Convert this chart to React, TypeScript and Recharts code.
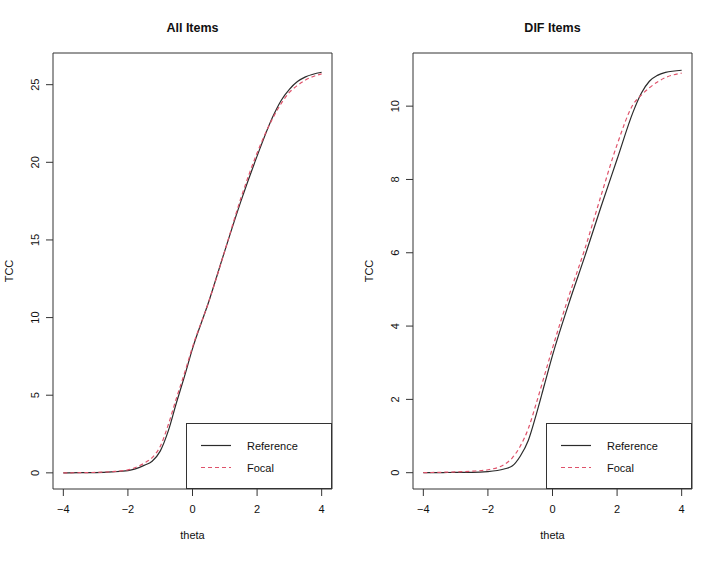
import React from "react";
import {
  LineChart,
  Line,
  XAxis,
  YAxis,
  ReferenceArea,
  Legend,
} from "recharts";

// theta grid and test characteristic curves
const theta = [-4, -3.5, -3, -2.5, -2, -1.5, -1.25, -1, -0.75, -0.5, -0.25, 0, 0.5, 1, 1.5, 2, 2.5, 2.75, 3, 3.25, 3.5, 4];

const allReference = [0, 0.01, 0.02, 0.06, 0.14, 0.48, 0.75, 1.4, 2.7, 4.5, 6.2, 8.0, 11.0, 14.3, 17.5, 20.4, 23.0, 24.0, 24.7, 25.2, 25.5, 25.8];
const allFocal = [0, 0.01, 0.03, 0.08, 0.19, 0.62, 0.98, 1.7, 3.1, 4.8, 6.4, 8.1, 11.0, 14.3, 17.7, 20.6, 22.9, 23.8, 24.5, 24.95, 25.3, 25.7];

const difReference = [0, 0, 0.01, 0.01, 0.03, 0.1, 0.18, 0.45, 0.88, 1.6, 2.4, 3.2, 4.6, 5.9, 7.25, 8.55, 9.85, 10.35, 10.68, 10.84, 10.92, 10.98];
const difFocal = [0, 0.01, 0.02, 0.04, 0.08, 0.22, 0.4, 0.72, 1.2, 1.9, 2.65, 3.4, 4.8, 6.1, 7.55, 8.95, 10.05, 10.3, 10.5, 10.66, 10.78, 10.9];

const xTicks = [-4, -2, 0, 2, 4];
const allTicks = [0, 5, 10, 15, 20, 25];
const difTicks = [0, 2, 4, 6, 8, 10];

const seriesNames = ["Reference", "Focal"];
const seriesColors = ["#2b2b2b", "#df536b"];
const seriesDash = [undefined, "4 3"];

const FONT = "'Liberation Sans', Arial, Helvetica, sans-serif";
const INK = "#333";

const fmt = (v: number) => (v < 0 ? "\u2212" + Math.abs(v) : String(v));

const XTick = ({ x, y, payload }: any) => (
  <text x={x} y={y + 17} textAnchor="middle" fontFamily={FONT} fontSize={11} fill="#111">
    {fmt(payload.value)}
  </text>
);

const YTick = ({ x, y, payload }: any) => (
  <text
    transform={`translate(${x - 7.5},${y}) rotate(-90)`}
    textAnchor="middle"
    fontFamily={FONT}
    fontSize={11}
    fill="#111"
  >
    {fmt(payload.value)}
  </text>
);

const LegendBox = () => (
  <div style={{ width: 146, height: 66, border: `1px solid ${INK}`, boxSizing: "border-box" }}>
    <svg width={144} height={64}>
      {seriesNames.map((name, i) => (
        <g key={name}>
          <line
            x1={14}
            x2={44}
            y1={21.5 + i * 22}
            y2={21.5 + i * 22}
            stroke={seriesColors[i]}
            strokeWidth={1.2}
            strokeDasharray={seriesDash[i]}
          />
          <text x={60} y={25.5 + i * 22} fontFamily={FONT} fontSize={11} fill="#111">
            {name}
          </text>
        </g>
      ))}
    </svg>
  </div>
);

type PanelProps = {
  ref1: number[];
  foc: number[];
  yTicks: number[];
  yDomain: [number, number];
  width: number;
  yAxisWidth: number;
  rightMargin: number;
  legendLeft: number;
};

const Panel = ({ ref1, foc, yTicks, yDomain, width, yAxisWidth, rightMargin, legendLeft }: PanelProps) => {
  const data = theta.map((t, i) => ({ theta: t, reference: ref1[i], focal: foc[i] }));
  const xDomain: [number, number] = [-4.32, 4.32];
  return (
    <LineChart width={width} height={564} data={data} margin={{ top: 53, right: rightMargin, bottom: 0, left: 0 }}>
      <XAxis
        dataKey="theta"
        type="number"
        domain={xDomain}
        ticks={xTicks}
        allowDataOverflow
        axisLine={false}
        tickLine={{ stroke: INK }}
        tickSize={7}
        tickMargin={0}
        height={75}
        tick={<XTick />}
        interval={0}
      />
      <YAxis
        type="number"
        domain={yDomain}
        ticks={yTicks}
        allowDataOverflow
        axisLine={false}
        tickLine={{ stroke: INK }}
        tickSize={7}
        tickMargin={0}
        width={yAxisWidth}
        tick={<YTick />}
        interval={0}
      />
      <ReferenceArea
        x1={xDomain[0]}
        x2={xDomain[1]}
        y1={yDomain[0]}
        y2={yDomain[1]}
        fill="none"
        stroke={INK}
        strokeWidth={1}
        fillOpacity={0}
      />
      <Line
        dataKey="reference"
        name={seriesNames[0]}
        type="monotone"
        stroke={seriesColors[0]}
        strokeWidth={1.2}
        dot={false}
        isAnimationActive={false}
      />
      <Line
        dataKey="focal"
        name={seriesNames[1]}
        type="monotone"
        stroke={seriesColors[1]}
        strokeWidth={1.2}
        strokeDasharray={seriesDash[1]}
        dot={false}
        isAnimationActive={false}
      />
      <Legend
        layout="vertical"
        align="center"
        verticalAlign="middle"
        wrapperStyle={{ left: legendLeft, top: 423, width: 146, height: 66 }}
        content={<LegendBox />}
      />
    </LineChart>
  );
};

export default function App() {
  return (
    <div style={{ position: "absolute", left: 0, top: 0, width: 703, height: 564, background: "#fff" }}>
      <div style={{ position: "absolute", left: 0, top: 0 }}>
        <Panel
          ref1={allReference}
          foc={allFocal}
          yTicks={allTicks}
          yDomain={[-1.04, 27.04]}
          width={351}
          yAxisWidth={53}
          rightMargin={19}
          legendLeft={186}
        />
      </div>
      <div style={{ position: "absolute", left: 351, top: 0 }}>
        <Panel
          ref1={difReference}
          foc={difFocal}
          yTicks={difTicks}
          yDomain={[-0.445, 11.45]}
          width={352}
          yAxisWidth={62}
          rightMargin={11}
          legendLeft={195}
        />
      </div>
      <svg
        width={703}
        height={564}
        style={{ position: "absolute", left: 0, top: 0, pointerEvents: "none" }}
        fontFamily={FONT}
      >
        <text x={192.5} y={31.5} textAnchor="middle" fontWeight="bold" fontSize={12.5} fill="#111">
          All Items
        </text>
        <text x={552.5} y={31.5} textAnchor="middle" fontWeight="bold" fontSize={12.5} fill="#111">
          DIF Items
        </text>
        <text x={192.5} y={539} textAnchor="middle" fontSize={11} fill="#111">
          theta
        </text>
        <text x={552.5} y={539} textAnchor="middle" fontSize={11} fill="#111">
          theta
        </text>
        <text transform="translate(13,271) rotate(-90)" textAnchor="middle" fontSize={11} fill="#111">
          TCC
        </text>
        <text transform="translate(373,271) rotate(-90)" textAnchor="middle" fontSize={11} fill="#111">
          TCC
        </text>
      </svg>
    </div>
  );
}
